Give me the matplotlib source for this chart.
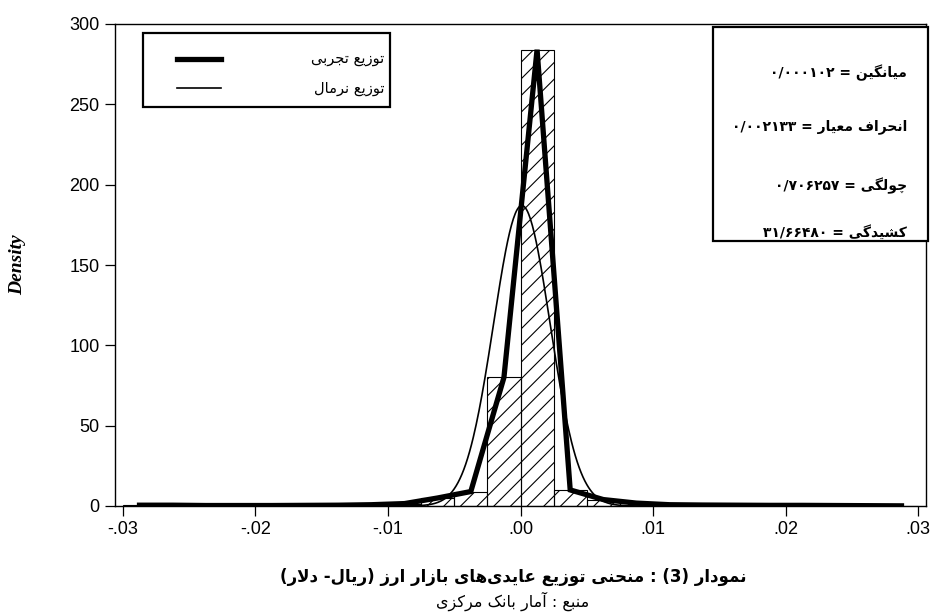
import numpy as np
import matplotlib
matplotlib.use("Agg")
import matplotlib.pyplot as plt
from matplotlib.patches import Rectangle
from matplotlib.lines import Line2D

# ---------------- data ----------------
bin_width = 0.0025
bin_mids = [-0.02875, -0.02625, -0.02375, -0.02125, -0.01875, -0.01625,
            -0.01375, -0.01125, -0.00875, -0.00625, -0.00375, -0.00125,
            0.00125, 0.00375, 0.00625, 0.00875, 0.01125, 0.01375,
            0.01625, 0.01875, 0.02125, 0.02375, 0.02625, 0.02875]
density = [0.5, 0.5, 0.3, 0.3, 0.3, 0.4,
           0.5, 0.8, 1.5, 5.0, 9.0, 80.0,
           284.0, 10.0, 4.0, 1.8, 0.8, 0.6,
           0.5, 0.4, 0.4, 0.3, 0.2, 0.1]
normal_mean = 0.000102
normal_sd = 0.002133
xticks = [-0.03, -0.02, -0.01, 0.0, 0.01, 0.02, 0.03]
xtick_labels = ["-.03", "-.02", "-.01", ".00", ".01", ".02", ".03"]
yticks = [0, 50, 100, 150, 200, 250, 300]

legend_labels = ["توزیع تجربی", "توزیع نرمال"]
stat_names = ["میانگین", "انحراف معیار", "چولگی", "کشیدگی"]
stat_values = ["۰/۰۰۰۱۰۲", "۰/۰۰۲۱۳۳", "۰/۷۰۶۲۵۷", "۳۱/۶۶۴۸۰"]
title_text = "نمودار (3) : منحنی توزیع عایدی‌های بازار ارز (ریال- دلار)"
source_text = "منبع : آمار بانک مرکزی"

# ---------------- Arabic / Persian shaping ----------------
FORMS = {
    '\u0627': ('\uFE8D', '\uFE8E', None, None),
    '\u0622': ('\uFE81', '\uFE82', None, None),
    '\u0628': ('\uFE8F', '\uFE90', '\uFE91', '\uFE92'),
    '\u062A': ('\uFE95', '\uFE96', '\uFE97', '\uFE98'),
    '\u062C': ('\uFE9D', '\uFE9E', '\uFE9F', '\uFEA0'),
    '\u0686': ('\uFB7A', '\uFB7B', '\uFB7C', '\uFB7D'),
    '\u062D': ('\uFEA1', '\uFEA2', '\uFEA3', '\uFEA4'),
    '\u062F': ('\uFEA9', '\uFEAA', None, None),
    '\u0631': ('\uFEAD', '\uFEAE', None, None),
    '\u0632': ('\uFEAF', '\uFEB0', None, None),
    '\u0634': ('\uFEB5', '\uFEB6', '\uFEB7', '\uFEB8'),
    '\u0639': ('\uFEC9', '\uFECA', '\uFECB', '\uFECC'),
    '\u0641': ('\uFED1', '\uFED2', '\uFED3', '\uFED4'),
    '\u06A9': ('\uFB8E', '\uFB8F', '\uFB90', '\uFB91'),
    '\u06AF': ('\uFB92', '\uFB93', '\uFB94', '\uFB95'),
    '\u0644': ('\uFEDD', '\uFEDE', '\uFEDF', '\uFEE0'),
    '\u0645': ('\uFEE1', '\uFEE2', '\uFEE3', '\uFEE4'),
    '\u0646': ('\uFEE5', '\uFEE6', '\uFEE7', '\uFEE8'),
    '\u0647': ('\uFEE9', '\uFEEA', '\uFEEB', '\uFEEC'),
    '\u0648': ('\uFEED', '\uFEEE', None, None),
    '\u06CC': ('\uFBFC', '\uFBFD', '\uFBFE', '\uFBFF'),
}


def _dual(c):
    return c in FORMS and FORMS[c][2] is not None


def shape(s):
    ch = list(s)
    out = []
    i = 0
    while i < len(ch):
        c = ch[i]
        prev = ch[i - 1] if i > 0 else None
        if c == '\u0644' and i + 1 < len(ch) and ch[i + 1] in ('\u0627', '\u0622'):
            cp = prev is not None and _dual(prev)
            if ch[i + 1] == '\u0627':
                out.append('\uFEFC' if cp else '\uFEFB')
            else:
                out.append('\uFEF6' if cp else '\uFEF5')
            i += 2
            continue
        if c not in FORMS:
            if c != '\u200c':
                out.append(c)
            i += 1
            continue
        nxt = ch[i + 1] if i + 1 < len(ch) else None
        cp = prev is not None and _dual(prev)
        cn = _dual(c) and nxt is not None and nxt in FORMS
        iso, fin, ini, med = FORMS[c]
        if cp and cn:
            out.append(med)
        elif cp:
            out.append(fin)
        elif cn:
            out.append(ini)
        else:
            out.append(iso)
        i += 1
    return out


DIG = set("0123456789۰۱۲۳۴۵۶۷۸۹/")
MIRROR = {'(': ')', ')': '('}


def rtl(s):
    g = shape(s)[::-1]
    g = [MIRROR.get(c, c) for c in g]
    res = []
    run = []
    for c in g:
        if c in DIG:
            run.append(c)
        else:
            if run:
                res.extend(run[::-1])
                run = []
            res.append(c)
    if run:
        res.extend(run[::-1])
    return "".join(res)


AR = ['DejaVu Sans']

# ---------------- figure ----------------
W, H = 935, 614
fig = plt.figure(figsize=(W / 100, H / 100), dpi=100)
plt.rcParams['hatch.linewidth'] = 0.8


def fx(px):
    return px / W


def fy(py):
    return 1 - py / H


ax = fig.add_axes([fx(115), fy(506), fx(926 - 115), (506 - 24) / H])

ax.bar(bin_mids, density, width=bin_width, fill=False, edgecolor='black',
       linewidth=0.8, hatch='//', zorder=2)

xs = np.linspace(bin_mids[0], bin_mids[-1], 800)
normal_pdf = np.exp(-0.5 * ((xs - normal_mean) / normal_sd) ** 2) / (normal_sd * np.sqrt(2 * np.pi))
ax.plot(xs, normal_pdf, color='black', linewidth=1.2, zorder=3)
ax.plot(bin_mids, density, color='black', linewidth=3.8, zorder=4,
        solid_joinstyle='miter')

ax.set_xlim(-0.0306, 0.0306)
ax.set_ylim(0, 300)
ax.set_xticks(xticks)
ax.set_xticklabels(xtick_labels, fontfamily='Liberation Sans', fontsize=13)
ax.set_yticks(yticks)
ax.set_yticklabels([str(v) for v in yticks], fontfamily='Liberation Sans', fontsize=13)
ax.tick_params(axis='both', direction='out', length=7, width=0.9, pad=4)
for sp in ax.spines.values():
    sp.set_linewidth(1.0)

fig.text(fx(18), fy(265), "Density", rotation=90, ha='center', va='center',
         fontfamily='Liberation Serif', fontweight='bold', fontstyle='italic',
         fontsize=14)

# legend box (top-left)
fig.patches.append(Rectangle((fx(143), fy(107)), fx(390 - 143), (107 - 33) / H,
                             transform=fig.transFigure, fill=True,
                             facecolor='white', edgecolor='black', linewidth=1.6,
                             zorder=5))
fig.lines.append(Line2D([fx(177), fx(221)], [fy(59), fy(59)], color='black',
                        linewidth=3.8, transform=fig.transFigure, zorder=6))
fig.lines.append(Line2D([fx(177), fx(221)], [fy(88), fy(88)], color='black',
                        linewidth=1.2, transform=fig.transFigure, zorder=6))
for lab, yy in zip(legend_labels, [59, 88]):
    fig.text(fx(384), fy(yy), rtl(lab), ha='right', va='center', fontfamily=AR,
             fontsize=10.5, zorder=7)

# statistics box (top-right)
box = Rectangle((fx(713), fy(241)), fx(928 - 713), (241 - 27) / H,
                transform=fig.transFigure, fill=True, facecolor='white',
                edgecolor='black', linewidth=1.6, zorder=5)
fig.patches.append(box)
for name, val, yy in zip(stat_names, stat_values, [73, 127, 186, 232]):
    t = fig.text(fx(907), fy(yy), rtl(name + " = " + val), ha='right',
                 va='center', fontfamily=AR, fontsize=10, fontweight='bold',
                 zorder=7)
    t.set_clip_path(box)

# caption
fig.text(fx(513), fy(577), rtl(title_text), ha='center', va='center',
         fontfamily=AR, fontsize=12, fontweight='bold')
fig.text(fx(513), fy(601), rtl(source_text), ha='center', va='center',
         fontfamily=AR, fontsize=11.5)

fig.savefig("out.png", dpi=100)
